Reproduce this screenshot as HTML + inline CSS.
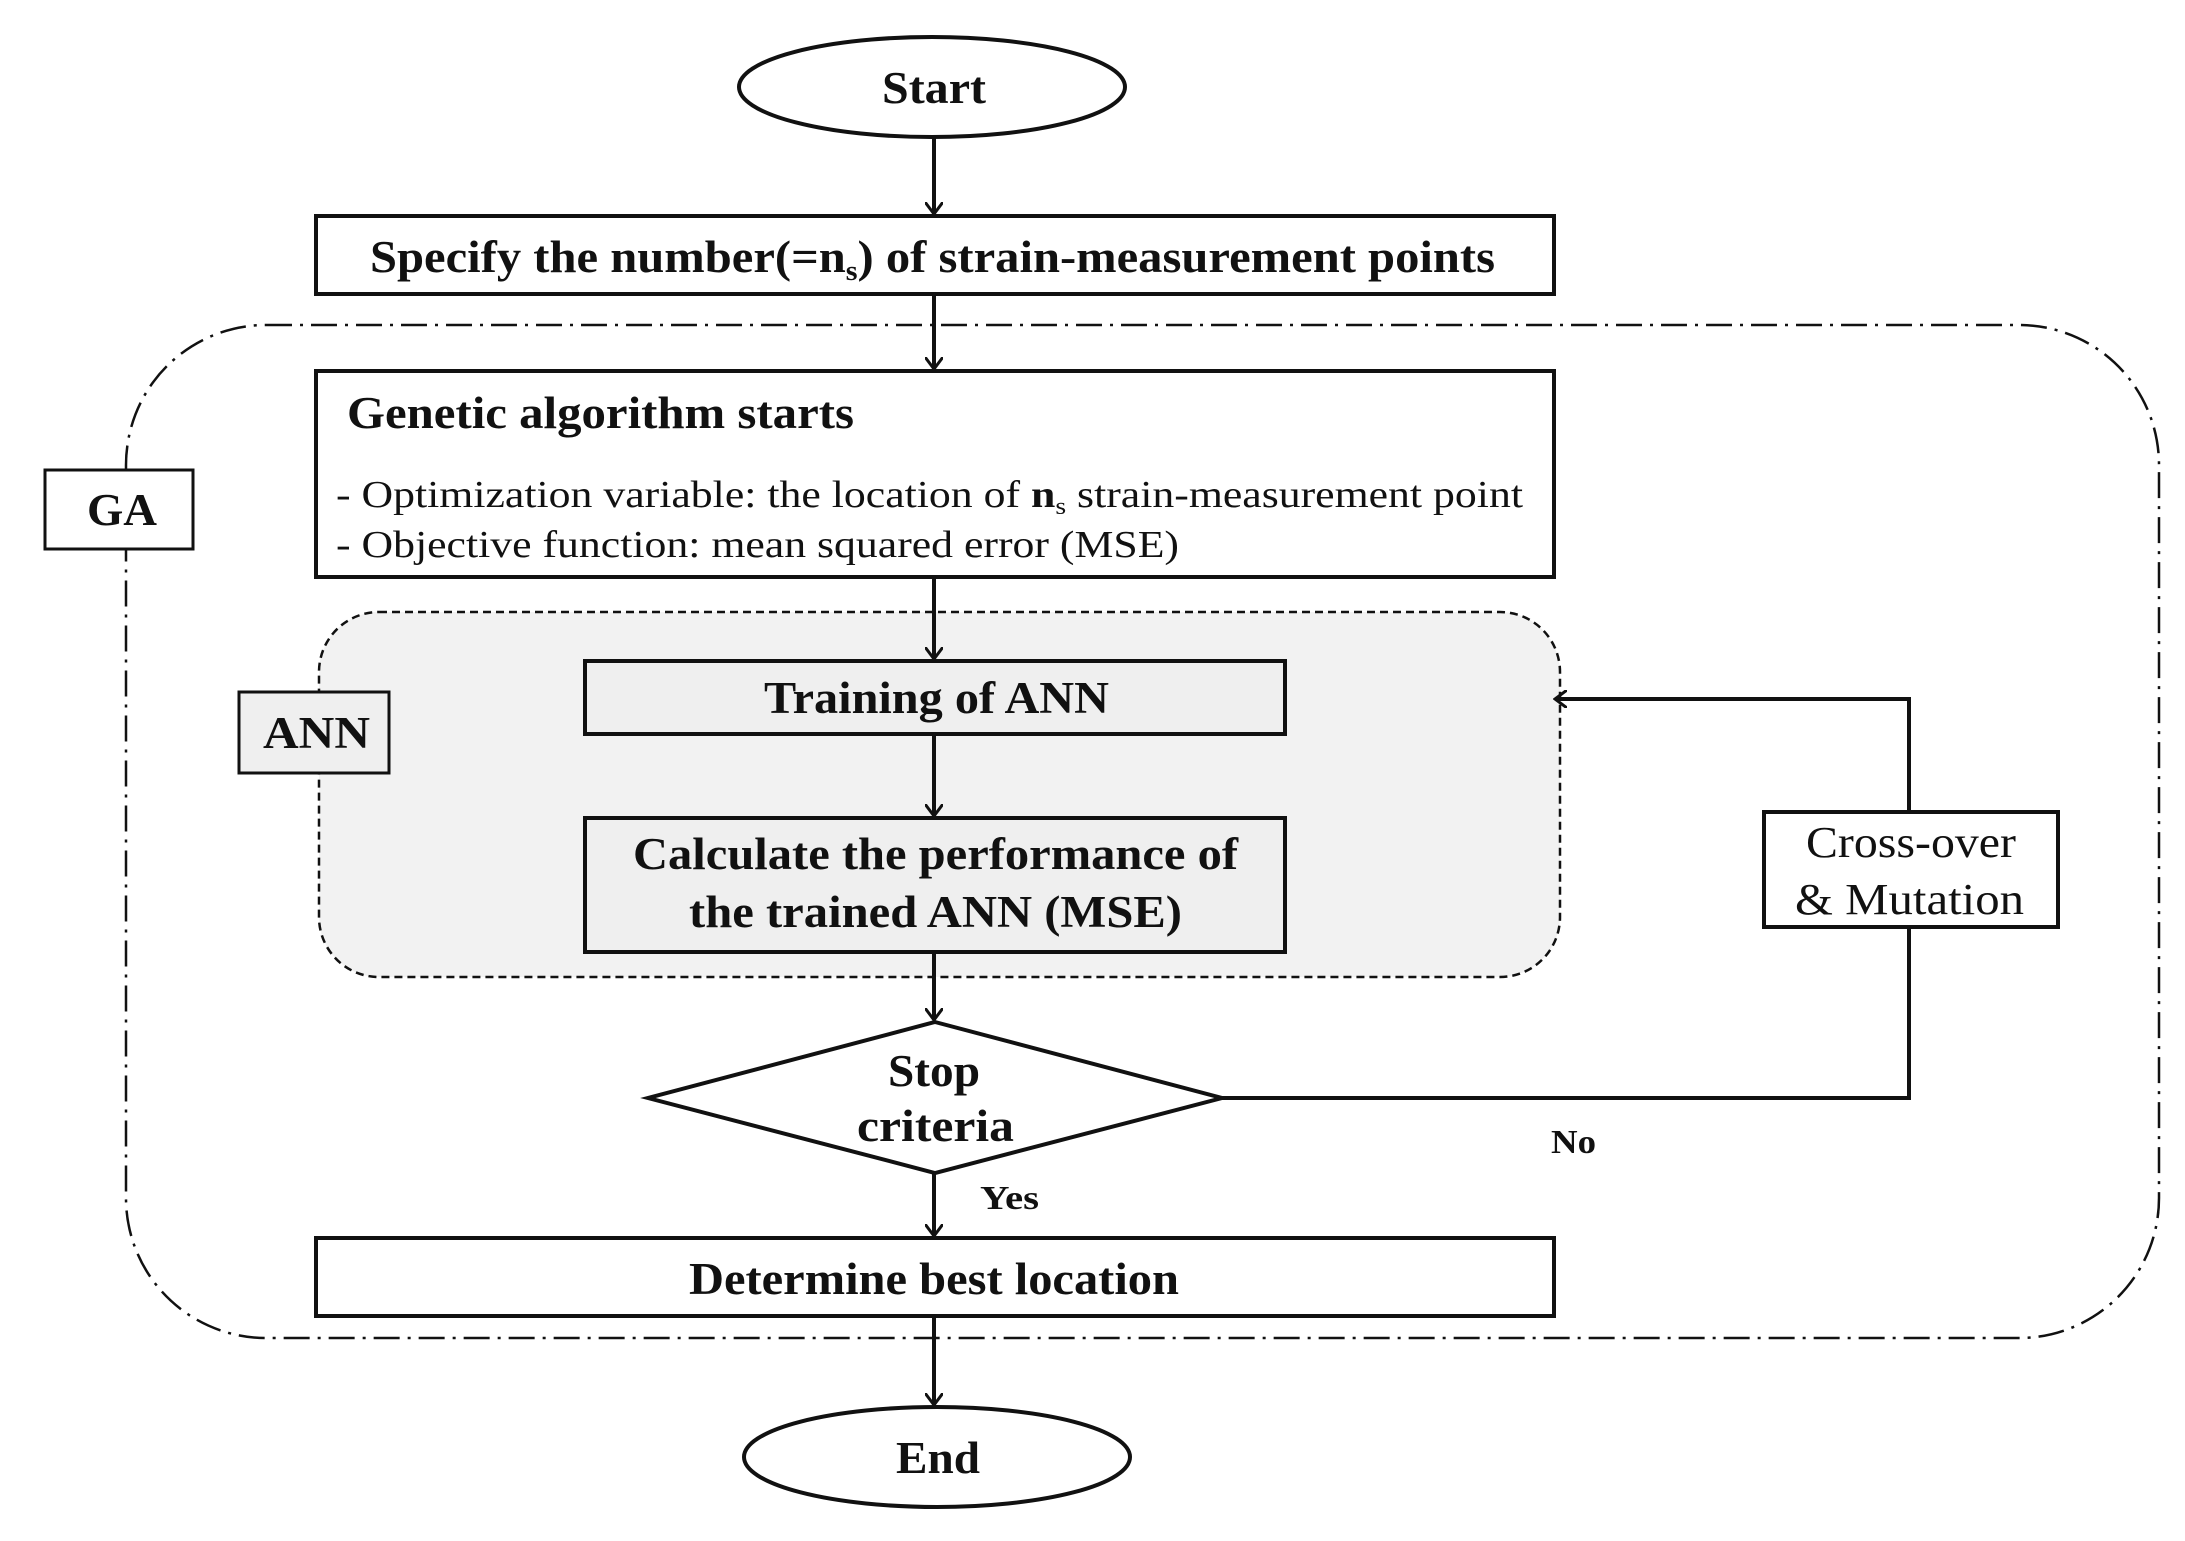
<!DOCTYPE html>
<html><head><meta charset="utf-8"><style>
html,body{margin:0;padding:0;background:#fff;}
svg{display:block;}
text{font-family:"Liberation Serif",serif;fill:#111;}
.b{font-weight:bold;font-size:45px;}
.n{font-size:38px;}
</style></head><body>
<svg width="2185" height="1541" viewBox="0 0 2185 1541" xmlns="http://www.w3.org/2000/svg">
<defs>
<marker id="ar" markerWidth="14" markerHeight="18" refX="12" refY="9" orient="auto" markerUnits="userSpaceOnUse">
<path d="M0,0 L12,9 L0,18" fill="none" stroke="#111" stroke-width="3"/>
</marker>
</defs>
<rect x="126" y="325" width="2033" height="1013" rx="140" fill="none" stroke="#111" stroke-width="2.5" stroke-dasharray="26,8,3,8"/>
<rect x="319" y="612" width="1241" height="365" rx="60" fill="#f2f2f2" stroke="#111" stroke-width="2.5" stroke-dasharray="8,5"/>
<ellipse cx="932" cy="87" rx="193" ry="50" fill="#fff" stroke="#111" stroke-width="4"/>
<text class="b" x="882" y="103" textLength="104" lengthAdjust="spacingAndGlyphs">Start</text>
<g stroke="#111" stroke-width="4" fill="none">
<line x1="934" y1="137" x2="934" y2="214" marker-end="url(#ar)"/>
<line x1="934" y1="294" x2="934" y2="369" marker-end="url(#ar)"/>
<line x1="934" y1="577" x2="934" y2="659" marker-end="url(#ar)"/>
<line x1="934" y1="734" x2="934" y2="816" marker-end="url(#ar)"/>
<line x1="934" y1="952" x2="934" y2="1020" marker-end="url(#ar)"/>
<line x1="934" y1="1173" x2="934" y2="1236" marker-end="url(#ar)"/>
<line x1="934" y1="1316" x2="934" y2="1405" marker-end="url(#ar)"/>
<polyline points="1222,1098 1909,1098 1909,927"/>
<polyline points="1909,812 1909,699 1555,699" marker-end="url(#ar)"/>
</g>
<rect x="316" y="216" width="1238" height="78" fill="#fff" stroke="#111" stroke-width="4"/>
<text class="b" x="370" y="272" textLength="1125" lengthAdjust="spacingAndGlyphs">Specify the number(=n<tspan font-size="28" dy="8">s</tspan><tspan dy="-8">) of strain-measurement points</tspan></text>
<rect x="45" y="470" width="148" height="79" fill="#fff" stroke="#111" stroke-width="3"/>
<text class="b" x="87" y="525" textLength="70" lengthAdjust="spacingAndGlyphs">GA</text>
<rect x="316" y="371" width="1238" height="206" fill="#fff" stroke="#111" stroke-width="4"/>
<text class="b" x="347" y="428" textLength="507" lengthAdjust="spacingAndGlyphs">Genetic algorithm starts</text>
<text class="n" x="336" y="507" textLength="1187" lengthAdjust="spacingAndGlyphs">-  Optimization variable: the location of <tspan font-weight="bold">n</tspan><tspan font-size="24" dy="7">s</tspan><tspan dy="-7"> strain-measurement point</tspan></text>
<text class="n" x="336" y="557" textLength="843" lengthAdjust="spacingAndGlyphs">-  Objective function: mean squared error (MSE)</text>
<rect x="239" y="692" width="150" height="81" fill="#efefef" stroke="#111" stroke-width="3"/>
<text class="b" x="263" y="748" textLength="107" lengthAdjust="spacingAndGlyphs">ANN</text>
<rect x="585" y="661" width="700" height="73" fill="#efefef" stroke="#111" stroke-width="4"/>
<text class="b" x="764" y="713" textLength="345" lengthAdjust="spacingAndGlyphs">Training of ANN</text>
<rect x="585" y="818" width="700" height="134" fill="#efefef" stroke="#111" stroke-width="4"/>
<text class="b" x="633" y="869" textLength="605" lengthAdjust="spacingAndGlyphs">Calculate the performance of</text>
<text class="b" x="689" y="927" textLength="493" lengthAdjust="spacingAndGlyphs">the trained ANN (MSE)</text>
<polygon points="935,1022 1222,1098 935,1173 648,1098" fill="#fff" stroke="#111" stroke-width="4"/>
<text class="b" x="888" y="1086" textLength="92" lengthAdjust="spacingAndGlyphs">Stop</text>
<text class="b" x="857" y="1141" textLength="157" lengthAdjust="spacingAndGlyphs">criteria</text>
<rect x="1764" y="812" width="294" height="115" fill="#fff" stroke="#111" stroke-width="4"/>
<text x="1806" y="857" font-size="44" textLength="210" lengthAdjust="spacingAndGlyphs">Cross-over</text>
<text x="1795" y="914" font-size="44" textLength="229" lengthAdjust="spacingAndGlyphs">&amp; Mutation</text>
<text x="1551" y="1153" font-size="34" font-weight="bold" textLength="45" lengthAdjust="spacingAndGlyphs">No</text>
<text x="980" y="1209" font-size="34" font-weight="bold" textLength="59" lengthAdjust="spacingAndGlyphs">Yes</text>
<rect x="316" y="1238" width="1238" height="78" fill="#fff" stroke="#111" stroke-width="4"/>
<text class="b" x="689" y="1294" textLength="490" lengthAdjust="spacingAndGlyphs">Determine best location</text>
<ellipse cx="937" cy="1457" rx="193" ry="50" fill="#fff" stroke="#111" stroke-width="4"/>
<text class="b" x="896" y="1473" textLength="84" lengthAdjust="spacingAndGlyphs">End</text>
</svg>
</body></html>
